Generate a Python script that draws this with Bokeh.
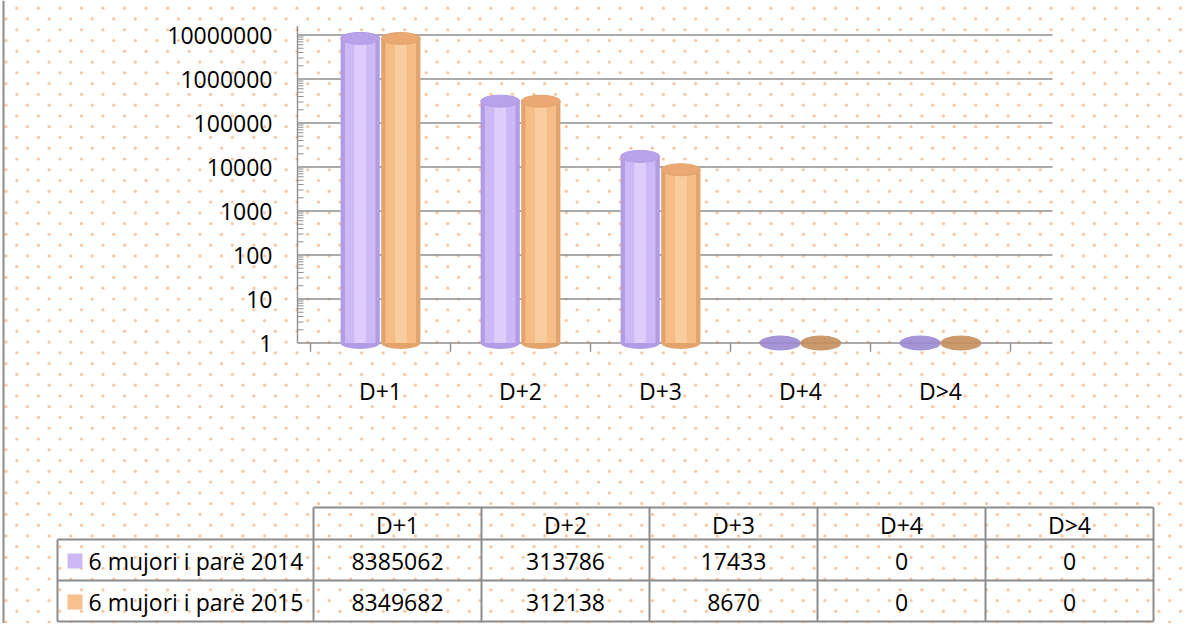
from bokeh.plotting import figure
from bokeh.models import Range1d, LinearScale, ColumnDataSource
from bokeh.embed import file_html
from bokeh.resources import INLINE
from bokeh.core.properties import value

# ---------------- data ----------------
categories = ["D+1", "D+2", "D+3", "D+4", "D>4"]
series_names = ["6 mujori i parë 2014", "6 mujori i parë 2015"]
values_2014 = [8385062, 313786, 17433, 0, 0]
values_2015 = [8349682, 312138, 8670, 0, 0]
y_ticks = [1, 10, 100, 1000, 10000, 100000, 1000000, 10000000]
y_tick_labels = ["1", "10", "100", "1000", "10000", "100000", "1000000", "10000000"]

# ---------------- layout / style ----------------
W, H = 1182, 623
X0, DX = 380.0, 140.0          # pixel of first category, pixels per category
Y1PX, DEC = 342.5, 44.0        # pixel of value 1, pixels per decade
FONT = value("Open Sans")
FS = "23px"
GRID = "#8f8f8f"

series = [
    dict(vals=values_2014, off=-0.145, edge="#b39ce6", body="#cdb9f5", hi="#e2d5ff",
         cap="#b8a2ea", disc="#9c8ad2", legend="#cdb8f5"),
    dict(vals=values_2015, off=0.145, edge="#e3a46c", body="#f6bd86", hi="#fbd4a8",
         cap="#eaa973", disc="#c48f5c", legend="#f8c08e"),
]
BW = 0.28

p = figure(width=W, height=H, output_backend="svg", toolbar_location=None,
           x_range=Range1d(-X0 / DX, (W - X0) / DX),
           y_range=Range1d(10 ** (-(H - Y1PX) / DEC), 10 ** (Y1PX / DEC)),
           y_axis_type="log", x_axis_location=None, y_axis_location=None,
           min_border=0, outline_line_color=None)
p.xgrid.visible = False
p.ygrid.visible = False
p.background_fill_color = "white"
p.border_fill_color = "white"

p.extra_x_ranges = {"px": Range1d(0, W)}
p.extra_y_ranges = {"px": Range1d(H, 0)}
p.extra_x_scales = {"px": LinearScale()}
p.extra_y_scales = {"px": LinearScale()}

# dotted (staggered) background texture
dot_x, dot_y = [], []
SX, SY = 21.55, 10.77
r = 0
yy = 7.7
while yy < H:
    xx = 16.3 if r % 2 == 0 else 5.5
    while xx < W:
        dot_x.append(xx)
        dot_y.append(yy)
        xx += SX
    yy += SY
    r += 1
p.scatter(x=dot_x, y=dot_y, x_range_name="px", y_range_name="px", marker="circle",
          size=3.2, fill_color="#f7bd90", line_color=None, fill_alpha=0.85)

# left frame border
p.segment(x0=3, x1=3, y0=0, y1=H, x_range_name="px", y_range_name="px",
          line_color="#8c8c8c", line_width=2)

# ---------------- value axis ----------------
AX, GR = 297, 1052
p.segment(x0=AX, x1=GR, y0=y_ticks, y1=y_ticks, x_range_name="px",
          line_color=GRID, line_width=1.4)
p.segment(x0=AX, x1=AX, y0=1, y1=y_ticks[-1] * 1.6, x_range_name="px",
          line_color=GRID, line_width=1.4)
minor = [m * t for t in y_ticks[:-1] for m in range(2, 10)]
p.segment(x0=AX, x1=AX + 6, y0=minor, y1=minor, x_range_name="px",
          line_color=GRID, line_width=1)
p.text(x=272, y=y_ticks, text=y_tick_labels, x_range_name="px",
       text_align="right", text_baseline="middle", text_font=FONT,
       text_font_size=FS, text_color="black")

# category boundary ticks
bounds = [i - 0.5 for i in range(len(categories) + 1)]
p.segment(x0=bounds, x1=bounds, y0=1, y1=10 ** -0.2, line_color=GRID, line_width=1.4)

# category labels
p.text(x=list(range(len(categories))), y=398 - 8, text=categories, y_range_name="px",
       text_align="center", text_baseline="middle", text_font=FONT,
       text_font_size=FS, text_color="black")

# ---------------- cylinders ----------------
for s in series:
    xs = [i + s["off"] for i, v in enumerate(s["vals"]) if v > 0]
    tops = [v for v in s["vals"] if v > 0]
    src = ColumnDataSource(dict(x=xs, top=tops, base=[1] * len(xs)))
    p.ellipse(x="x", y="base", width=BW, height=12, height_units="screen",
              source=src, fill_color=s["edge"], line_color=None)
    p.vbar(x="x", top="top", bottom="base", width=BW, source=src,
           fill_color=s["edge"], line_color=None)
    p.vbar(x="x", top="top", bottom="base", width=BW * 0.78, source=src,
           fill_color=s["body"], line_color=None)
    p.vbar(x="x", top="top", bottom="base", width=BW * 0.3, source=src,
           fill_color=s["hi"], line_color=None, fill_alpha=0.7)
    p.ellipse(x="x", y="top", width=BW, height=12, height_units="screen",
              source=src, fill_color=s["cap"], line_color=s["edge"], line_width=1)

    zx = [i + s["off"] for i, v in enumerate(s["vals"]) if v == 0]
    zsrc = ColumnDataSource(dict(x=zx, base=[1] * len(zx)))
    p.ellipse(x="x", y="base", width=BW * 1.05, height=15, height_units="screen",
              source=zsrc, fill_color=s["disc"], line_color=None, fill_alpha=0.9)

# ---------------- data table ----------------
TL, TC0, CW = 57, 313, 168
ncol = len(categories)
TR = TC0 + CW * ncol
HT, HB, R1, R2 = 507, 539, 580, 621
LC = "#8c8c8c"
p.segment(x0=[TC0, TL, TL, TL], x1=[TR] * 4, y0=[HT, HB, R1, R2], y1=[HT, HB, R1, R2],
          x_range_name="px", y_range_name="px", line_color=LC, line_width=2)
vx = [TC0 + CW * i for i in range(ncol + 1)]
p.segment(x0=vx, x1=vx, y0=HT, y1=R2, x_range_name="px", y_range_name="px",
          line_color=LC, line_width=2)
p.segment(x0=TL, x1=TL, y0=HB, y1=R2, x_range_name="px", y_range_name="px",
          line_color=LC, line_width=2)

cx = [TC0 + CW * (i + 0.5) for i in range(ncol)]
p.text(x=cx, y=(HT + HB) / 2 + 1, text=categories, x_range_name="px", y_range_name="px",
       text_align="center", text_baseline="middle", text_font=FONT, text_font_size=FS,
       text_color="black")
rows_y = [(HB + R1) / 2 + 1, (R1 + R2) / 2 + 1]
for s, name, ry in zip(series, series_names, rows_y):
    p.text(x=cx, y=ry, text=[str(v) for v in s["vals"]], x_range_name="px",
           y_range_name="px", text_align="center", text_baseline="middle",
           text_font=FONT, text_font_size=FS, text_color="black")
    p.rect(x=74.5, y=ry, width=15, height=15, x_range_name="px", y_range_name="px",
           fill_color=s["legend"], line_color=None)
    p.text(x=88, y=ry, text=[name], x_range_name="px", y_range_name="px",
           text_align="left", text_baseline="middle", text_font=FONT,
           text_font_size=FS, text_color="black")

open("out.html", "w").write(file_html(p, INLINE))
